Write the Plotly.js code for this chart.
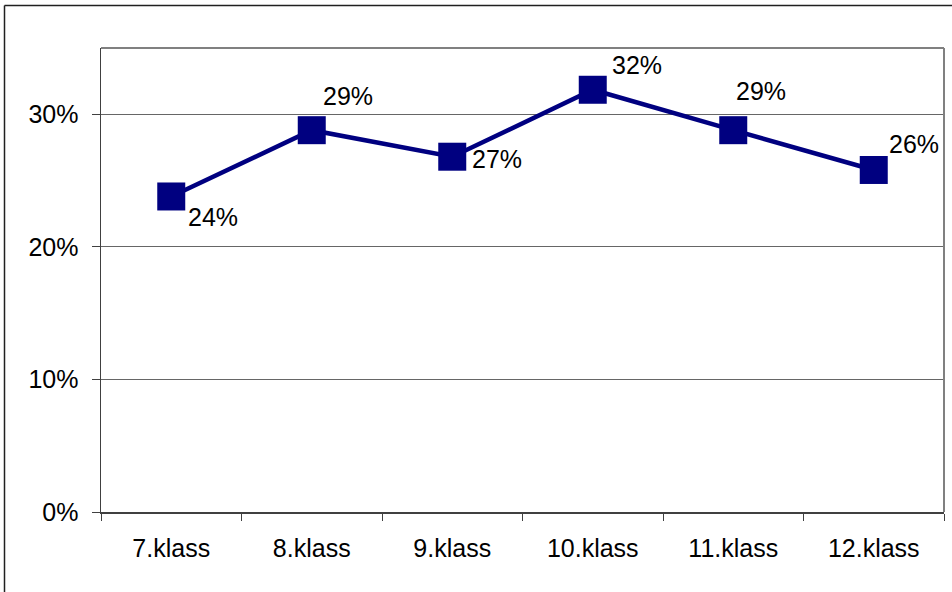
<!DOCTYPE html>
<html>
<head>
<meta charset="utf-8">
<script src="https://cdn.plot.ly/plotly-3.0.1.min.js"></script>
<style>
  html, body { margin: 0; padding: 0; background: #ffffff; }
  #chart { width: 952px; height: 592px; }
</style>
</head>
<body>
<div id="chart"></div>
<script>
// Data
const categories = ["7.klass", "8.klass", "9.klass", "10.klass", "11.klass", "12.klass"];
const values = [0.238, 0.288, 0.268, 0.3185, 0.288, 0.258];
const yTickValues = [0, 0.1, 0.2, 0.3];
const yTickLabels = ["0%", "10%", "20%", "30%"];

// Label placement (pixel offsets from each marker centre), styling only
const labelDx = [16, 10, 19, 18, 2, 14];
const labelDy = [-21, 34, -2, 25, 39, 26];

const FONT = "Liberation Sans, Arial, sans-serif";
const FS = 25;

const trace = {
  type: "scatter",
  mode: "lines+markers",
  x: categories,
  y: values,
  line: { color: "#000080", width: 4.5 },
  marker: { symbol: "square", size: 28, color: "#000080", line: { width: 0 } },
  hoverinfo: "skip",
  cliponaxis: false
};

const annotations = categories.map((c, i) => ({
  x: c, y: values[i], xref: "x", yref: "y",
  text: Math.round(values[i] * 100) + "%",
  showarrow: false,
  xanchor: "left", yanchor: "middle",
  xshift: labelDx[i], yshift: labelDy[i],
  font: { family: FONT, size: FS, color: "#000000" },
  borderpad: 0
}));

const L = 101, R = 8, T = 48, B = 80, W = 952, H = 592;
const pw = W - L - R, ph = H - T - B;
const px = v => (v - L) / pw;
const py = v => (H - B - v) / ph;

const layout = {
  width: W, height: H,
  margin: { l: L, r: R, t: T, b: B, pad: 0 },
  paper_bgcolor: "#ffffff",
  plot_bgcolor: "#ffffff",
  showlegend: false,
  font: { family: FONT, size: FS, color: "#000000" },
  xaxis: {
    type: "category",
    range: [-0.5, categories.length - 0.5],
    showgrid: false,
    zeroline: false,
    showline: true, linecolor: "#404040", linewidth: 1.5,
    ticks: "outside", tickson: "boundaries", ticklen: 7, tickcolor: "#404040", tickwidth: 1,
    tickfont: { family: FONT, size: FS, color: "#000000" },
    ticklabelstandoff: 13,
    fixedrange: true
  },
  yaxis: {
    range: [0, 0.35],
    tickvals: yTickValues,
    ticktext: yTickLabels,
    showgrid: true, gridcolor: "#666666", gridwidth: 1,
    zeroline: false,
    showline: true, linecolor: "#404040", linewidth: 1.5,
    ticks: "outside", ticklen: 8, tickcolor: "#404040", tickwidth: 1,
    tickfont: { family: FONT, size: FS, color: "#000000" },
    ticklabelstandoff: 8,
    fixedrange: true
  },
  shapes: [
    // plot area top and right border
    { type: "line", xref: "paper", yref: "paper", x0: 0, x1: 1, y0: 1, y1: 1, line: { color: "#808080", width: 2 } },
    { type: "line", xref: "paper", yref: "paper", x0: 1, x1: 1, y0: 0, y1: 1, line: { color: "#808080", width: 2 } },
    // outer chart frame (left and top edges visible)
    { type: "line", xref: "paper", yref: "paper", x0: px(4.5), x1: px(4.5), y0: py(5.5), y1: py(600), line: { color: "#202020", width: 1.5 } },
    { type: "line", xref: "paper", yref: "paper", x0: px(4.5), x1: px(960), y0: py(5.5), y1: py(5.5), line: { color: "#202020", width: 1.5 } }
  ],
  annotations: annotations
};

Plotly.newPlot("chart", [trace], layout, { displayModeBar: false, staticPlot: true });
</script>
</body>
</html>
